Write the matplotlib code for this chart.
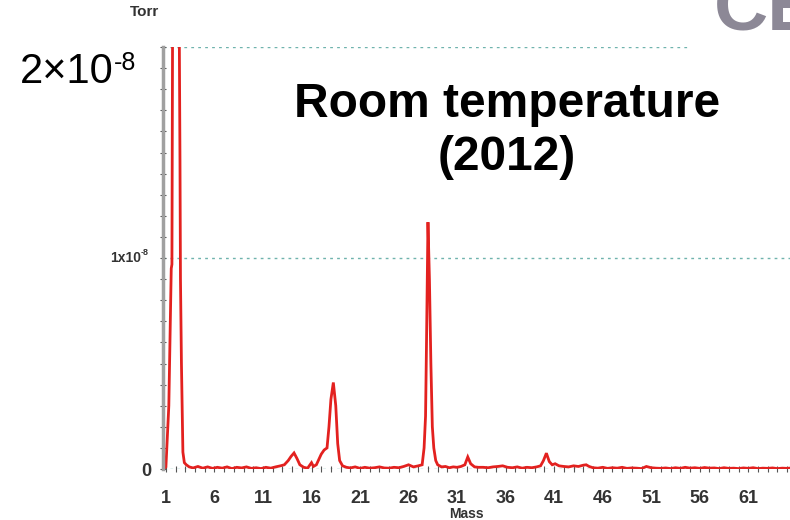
import matplotlib
matplotlib.use("Agg")
import matplotlib.pyplot as plt
from matplotlib.ticker import MultipleLocator

plt.rcParams['font.family'] = ['Liberation Sans', 'DejaVu Sans']

# RGA trace, pressure in units of 1e-8 Torr
mass = [0.8, 1.0, 1.3, 1.55, 1.62, 1.7, 2.0, 2.35, 2.45, 2.5, 2.6, 2.75, 2.9, 3.1, 3.4,
        3.8, 4.3, 4.8, 5.3, 5.8, 6.3, 6.8, 7.3, 7.8, 8.3, 8.8, 9.3, 9.8, 10.3, 10.8,
        11.3, 11.8, 12.3, 12.8, 13.2, 13.6, 13.9, 14.2, 14.5, 14.8, 15.2, 15.6, 16.0, 16.2, 16.5,
        16.8, 17.0, 17.3, 17.6, 17.8, 18.0, 18.25, 18.5, 18.7, 18.9, 19.2, 19.6, 20.0, 20.5, 21.0,
        21.5, 22.0, 22.5, 23.0, 23.5, 24.0, 24.5, 25.0, 25.5, 26.0, 26.5, 27.0, 27.4, 27.6, 27.75,
        27.85, 28.0, 28.15, 28.3, 28.45, 28.6, 28.8, 29.0, 29.4, 29.8, 30.2, 30.6, 31.0, 31.4, 31.8,
        32.1, 32.4, 32.8, 33.2, 33.7, 34.2, 34.7, 35.2, 35.7, 36.2, 36.7, 37.2, 37.7, 38.2, 38.7,
        39.2, 39.6, 39.9, 40.2, 40.5, 40.8, 41.1, 41.5, 42.0, 42.5, 43.0, 43.5, 44.0, 44.3, 44.6,
        45.0, 45.5, 46.0, 46.5, 47.0, 47.5, 48.0, 48.5, 49.0, 49.5, 50.0, 50.5, 51.0, 51.5, 52.0,
        52.5, 53.0, 53.5, 54.0, 54.5, 55.0, 55.5, 56.0, 56.5, 57.0, 57.5, 58.0, 58.5, 59.0, 59.5,
        60.0, 60.5, 61.0, 61.5, 62.0, 62.5, 63.0, 63.5, 64.0, 64.5, 65.0, 65.5]
torr = [0.0, 0.01, 0.3, 0.95, 0.97, 2.3, 2.6, 2.3, 1.46, 0.9, 0.5, 0.08, 0.03, 0.02, 0.01,
        0.005, 0.012, 0.004, 0.01, 0.003, 0.008, 0.004, 0.01, 0.002, 0.008, 0.005, 0.01, 0.003, 0.006, 0.002,
        0.008, 0.004, 0.01, 0.015, 0.02, 0.04, 0.06, 0.076, 0.05, 0.02, 0.008, 0.004, 0.03, 0.012, 0.02,
        0.05, 0.07, 0.09, 0.1, 0.2, 0.33, 0.41, 0.3, 0.12, 0.04, 0.015, 0.008, 0.005, 0.01, 0.003,
        0.008, 0.004, 0.006, 0.01, 0.005, 0.004, 0.008, 0.006, 0.012, 0.02, 0.01, 0.015, 0.02, 0.1, 0.25,
        0.6, 1.17, 0.9, 0.5, 0.2, 0.1, 0.04, 0.02, 0.01, 0.012, 0.006, 0.01, 0.008, 0.012, 0.02,
        0.057, 0.025, 0.01, 0.008, 0.008, 0.006, 0.01, 0.012, 0.015, 0.008, 0.006, 0.01, 0.004, 0.008, 0.006,
        0.01, 0.015, 0.04, 0.075, 0.035, 0.02, 0.025, 0.015, 0.012, 0.01, 0.015, 0.012, 0.018, 0.02, 0.012,
        0.006, 0.004, 0.008, 0.003, 0.006, 0.004, 0.008, 0.003, 0.005, 0.004, 0.002, 0.012, 0.006, 0.004, 0.003,
        0.005, 0.002, 0.006, 0.003, 0.008, 0.004, 0.006, 0.003, 0.007, 0.004, 0.005, 0.002, 0.006, 0.003, 0.004,
        0.002, 0.005, 0.003, 0.006, 0.002, 0.004, 0.003, 0.005, 0.002, 0.004, 0.003, 0.005]

xticks = list(range(1, 62, 5))
trace_color = "#e3211f"
grid_color = "#6fb3ad"
label_color = "#333333"

fig = plt.figure(figsize=(7.9, 5.2), dpi=100)
ax = fig.add_axes([163 / 790, 51 / 520, 1 - 163 / 790, 422 / 520])

ax.plot(mass, torr, color=trace_color, lw=2.0, solid_joinstyle="miter")

ax.set_xlim(0.7, 65.3)
ax.set_ylim(0, 2.0)

ax.axhline(0, color=grid_color, lw=1.0, ls=(0, (2, 3)), zorder=0)
ax.axhline(1, color=grid_color, lw=1.0, ls=(0, (2, 3)), zorder=0)
ax.axhline(2, xmax=0.84, color=grid_color, lw=1.0, ls=(0, (2, 3)), zorder=0)

for s in ["top", "right", "bottom"]:
    ax.spines[s].set_visible(False)
ax.spines["left"].set_color("#a0a0a0")
ax.spines["left"].set_linewidth(2.5)

ax.set_xticks(xticks)
ax.set_xticklabels([str(t) for t in xticks], fontsize=13, fontweight="bold", color=label_color)
ax.xaxis.set_minor_locator(MultipleLocator(1))
ax.tick_params(axis="x", which="both", length=4, width=0.8, color="#555555",
               direction="inout", pad=13)

ax.set_yticks([0, 1])
ax.set_yticklabels(["0", ""])
ax.yaxis.set_minor_locator(MultipleLocator(0.1))
ax.tick_params(axis="y", which="both", length=5, width=0.8, color="#555555",
               direction="inout", labelsize=13, labelcolor=label_color, pad=6)
for lab in ax.get_yticklabels():
    lab.set_fontweight("bold")

# small "1x10-8" tick label, drawn as base + raised exponent
fig.text(141 / 790, 1 - 262 / 520, "1x10", fontsize=10, fontweight="bold",
         color=label_color, ha="right", va="baseline")
fig.text(141 / 790, 1 - 255 / 520, "-8", fontsize=6.5, fontweight="bold",
         color=label_color, ha="left", va="baseline")
fig.text(144 / 790, 1 - 12 / 520, "Torr", fontsize=11, fontweight="bold",
         color=label_color, ha="center", va="center")
fig.text(466 / 790, 1 - 514 / 520, "Mass", fontsize=10, fontweight="bold",
         color=label_color, ha="center", va="center")

# big overlay label at the top of the y axis
fig.text(20 / 790, 1 - 83 / 520, "2×10", fontsize=30, color="black",
         ha="left", va="baseline")
fig.text(114 / 790, 1 - 70 / 520, "-8", fontsize=18, color="black",
         ha="left", va="baseline")
fig.text(507 / 790, 1 - 131 / 520, "Room temperature\n(2012)", fontsize=34.5,
         fontweight="bold", color="black", ha="center", va="center", linespacing=1.22)

fig.text(714 / 790, 1 - 30 / 520, "CE", fontsize=54, fontweight="bold",
         color="#8c8896", ha="left", va="baseline")

fig.savefig("out.png", dpi=100)
